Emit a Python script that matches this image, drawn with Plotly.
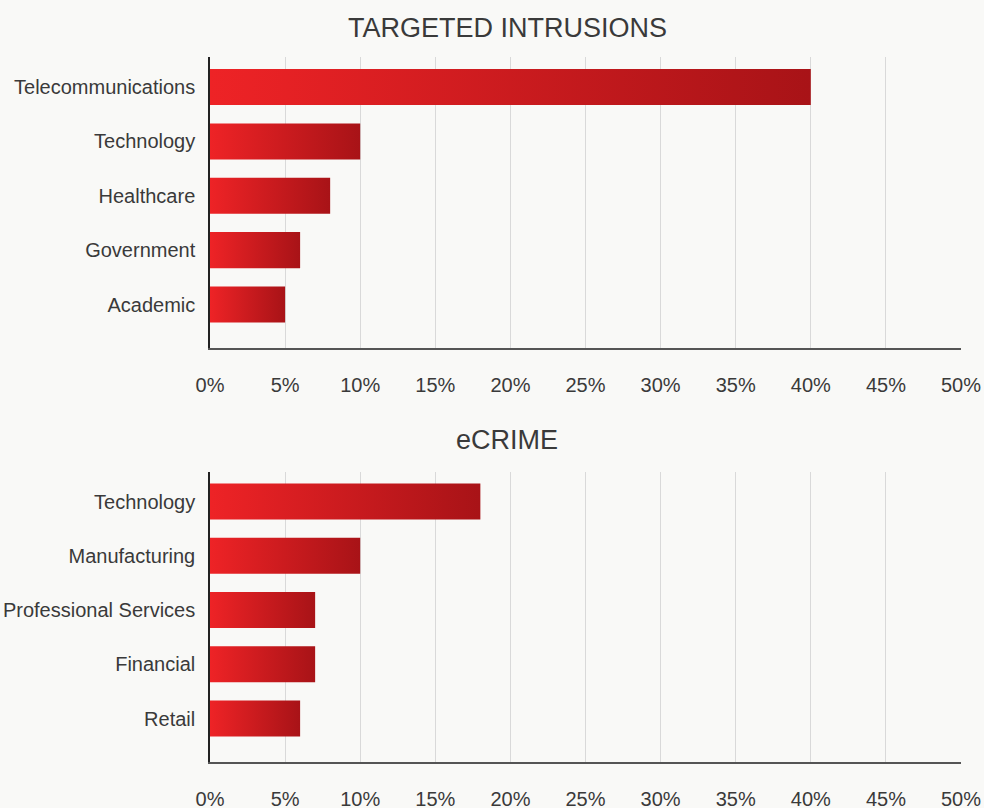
import plotly.graph_objects as go

# ---- data ----
ti_categories = ["Telecommunications", "Technology", "Healthcare", "Government", "Academic"]
ti_values = [40, 10, 8, 6, 5]

ec_categories = ["Technology", "Manufacturing", "Professional Services", "Financial", "Retail"]
ec_values = [18, 10, 7, 7, 6]

x_ticks = [0, 5, 10, 15, 20, 25, 30, 35, 40, 45, 50]
x_ticklabels = [f"{v}%" for v in x_ticks]

titles = ["TARGETED INTRUSIONS", "eCRIME"]

# ---- style ----
BG = "#f9f9f7"
TXT = "#3a3a3a"
GRID = "#d9d9d9"
C_LIGHT = "#ee2326"
C_DARK = "#a81317"
HALF = 0.332
FONT = "Liberation Sans, Arial, sans-serif"

W, H = 984.0, 808.0
ML, MR = 210, 23
PW = W - ML - MR

fig = go.Figure()


def add_bars(cats, vals, xref, yref):
    for i, (c, v) in enumerate(zip(cats, vals)):
        fig.add_trace(go.Scatter(
            x=[0, v, v, 0, 0],
            y=[i - HALF, i - HALF, i + HALF, i + HALF, i - HALF],
            xaxis=xref, yaxis=yref,
            mode="lines", line=dict(width=0),
            fill="toself",
            fillgradient=dict(type="horizontal",
                              colorscale=[[0, C_LIGHT], [1, C_DARK]]),
            hoverinfo="text", text=f"{c}: {v}%",
            showlegend=False,
        ))


add_bars(ti_categories, ti_values, "x", "y")
add_bars(ec_categories, ec_values, "x2", "y2")

top_dom = [1 - 348 / H, 1 - 57 / H]
bot_dom = [1 - 762 / H, 1 - 471.5 / H]

xaxis_common = dict(
    range=[0, 50], tickvals=x_ticks, ticktext=x_ticklabels,
    showgrid=True, gridcolor=GRID, gridwidth=1.2,
    zeroline=False, showline=True, linecolor="#555555", linewidth=1.5,
    ticks="outside", ticklen=18, tickcolor="rgba(0,0,0,0)",
    tickfont=dict(family=FONT, size=20, color=TXT),
    fixedrange=True, automargin=False,
)
yaxis_common = dict(
    range=[4.80, -0.553], tickvals=list(range(5)),
    showgrid=False, zeroline=False, showline=True,
    linecolor="#222222", linewidth=1.5,
    ticks="outside", ticklen=9, tickcolor="rgba(0,0,0,0)",
    tickfont=dict(family=FONT, size=20, color=TXT),
    fixedrange=True, automargin=False,
)

title_x = (507 - ML) / PW

fig.update_layout(
    width=984, height=808,
    margin=dict(l=ML, r=MR, t=0, b=0),
    paper_bgcolor=BG, plot_bgcolor=BG,
    xaxis=dict(**xaxis_common, anchor="y", domain=[0, 1]),
    yaxis=dict(**yaxis_common, ticktext=ti_categories, anchor="x", domain=top_dom),
    xaxis2=dict(**xaxis_common, anchor="y2", domain=[0, 1]),
    yaxis2=dict(**yaxis_common, ticktext=ec_categories, anchor="x2", domain=bot_dom),
    annotations=[
        dict(text=titles[0], x=title_x, y=1 - 28 / H,
             xref="paper", yref="paper", showarrow=False,
             xanchor="center", yanchor="middle",
             font=dict(family=FONT, size=27, color=TXT)),
        dict(text=titles[1], x=title_x, y=1 - 440 / H,
             xref="paper", yref="paper", showarrow=False,
             xanchor="center", yanchor="middle",
             font=dict(family=FONT, size=27, color=TXT)),
    ],
)

fig.write_html(
    "out.html",
    config={"displayModeBar": False},
    post_script=(
        "document.body.style.margin='0';"
        "document.body.style.padding='0';"
        "document.body.style.overflow='hidden';"
        "document.body.style.background='#f9f9f7';"
    ),
)
